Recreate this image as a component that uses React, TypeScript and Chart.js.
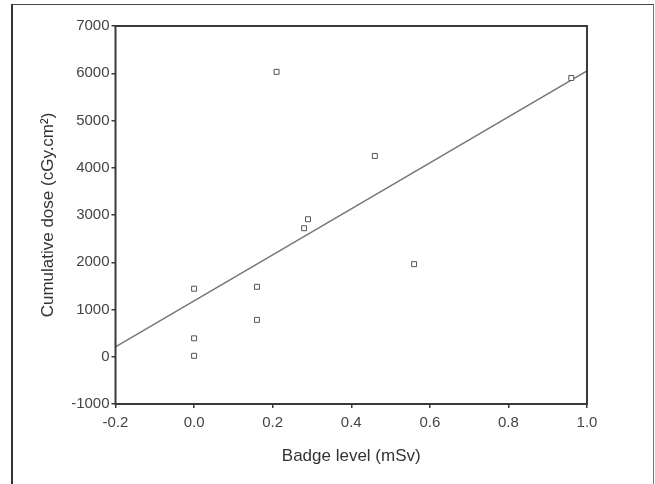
import React, { useEffect, useRef } from "react";
import { Chart, registerables } from "chart.js";

Chart.register(...registerables);

// Observed data points (Badge level mSv, Cumulative dose cGy.cm²)
const badgeLevel = [0.0, 0.0, 0.0, 0.16, 0.16, 0.21, 0.28, 0.29, 0.46, 0.56, 0.96];
const cumulativeDose = [20, 390, 1440, 780, 1480, 6030, 2720, 2910, 4250, 1960, 5900];

// Fit line end points
const fitX = [-0.2, 1.0];
const fitY = [210, 6050];

const xTicks = [-0.2, 0.0, 0.2, 0.4, 0.6, 0.8, 1.0];
const yTicks = [-1000, 0, 1000, 2000, 3000, 4000, 5000, 6000, 7000];

const xTitle = "Badge level (mSv)";
const yTitle = "Cumulative dose (cGy.cm\u00B2)";

export default function App() {
  const ref = useRef<HTMLCanvasElement | null>(null);

  useEffect(() => {
    if (!ref.current) return;
    const framePlugin = {
      id: "frame",
      afterDatasetsDraw(chart: any) {
        const { ctx, chartArea } = chart;
        ctx.save();
        ctx.strokeStyle = "#3a3a3a";
        ctx.lineWidth = 2;
        ctx.strokeRect(chartArea.left, chartArea.top, chartArea.right - chartArea.left, chartArea.bottom - chartArea.top);
        ctx.restore();
      },
    };
    const chart = new Chart(ref.current, {
      type: "scatter",
      data: {
        datasets: [
          {
            label: "points",
            data: badgeLevel.map((x, i) => ({ x, y: cumulativeDose[i] })),
            pointStyle: "rect",
            pointRadius: 3.5,
            pointBorderWidth: 1,
            pointBorderColor: "#555",
            pointBackgroundColor: "#fff",
            order: 0,
          } as any,
          {
            type: "line",
            label: "fit",
            data: fitX.map((x, i) => ({ x, y: fitY[i] })),
            borderColor: "#777",
            borderWidth: 1.5,
            pointRadius: 0,
            showLine: true,
            order: 1,
          } as any,
        ],
      },
      options: {
        responsive: false,
        animation: false,
        layout: { padding: { left: 0, top: 26, right: 68, bottom: 0 } },
        plugins: { legend: { display: false }, tooltip: { enabled: false } },
        scales: {
          x: {
            type: "linear",
            min: -0.2,
            max: 1.0,
            afterBuildTicks(scale: any) {
              scale.ticks = xTicks.map((v) => ({ value: v }));
            },
            afterFit(scale: any) {
              scale.height = 80;
            },
            border: { display: false },
            grid: { drawOnChartArea: false, drawTicks: true, tickLength: 4, color: "#3a3a3a", lineWidth: 1.5 },
            ticks: {
              padding: 6,
              color: "#444",
              font: { family: "'Liberation Sans', Arial, sans-serif", size: 15 },
              callback: (v: any) => Number(v).toFixed(1),
              maxRotation: 0,
            },
            title: {
              display: true,
              text: xTitle,
              color: "#333",
              font: { family: "'Liberation Sans', Arial, sans-serif", size: 17 },
              padding: { top: 0, bottom: 17 },
            },
          },
          y: {
            type: "linear",
            min: -1000,
            max: 7000,
            afterBuildTicks(scale: any) {
              scale.ticks = yTicks.map((v) => ({ value: v }));
            },
            afterFit(scale: any) {
              scale.width = 115.5;
            },
            border: { display: false },
            grid: { drawOnChartArea: false, drawTicks: true, tickLength: 4, color: "#3a3a3a", lineWidth: 1.5 },
            ticks: {
              padding: 2,
              color: "#444",
              font: { family: "'Liberation Sans', Arial, sans-serif", size: 15 },
              callback: (v: any) => String(v),
            },
            title: {
              display: true,
              text: yTitle,
              color: "#333",
              font: { family: "'Liberation Sans', Arial, sans-serif", size: 17 },
              padding: { top: 38, bottom: 0 },
            },
          },
        },
      },
      plugins: [framePlugin],
    });
    return () => chart.destroy();
  }, []);

  return (
    <div style={{ position: "fixed", left: 0, top: 0, width: 655, height: 484, background: "#fff", overflow: "hidden" }}>
      <div
        style={{
          position: "absolute",
          left: 11,
          top: 4,
          width: 643,
          height: 520,
          borderLeft: "2px solid #333",
          borderTop: "1px solid #444",
          borderRight: "1px solid #777",
          boxSizing: "border-box",
        }}
      />
      <canvas ref={ref} width={655} height={484} style={{ position: "absolute", left: 0, top: 0 }} />
    </div>
  );
}
